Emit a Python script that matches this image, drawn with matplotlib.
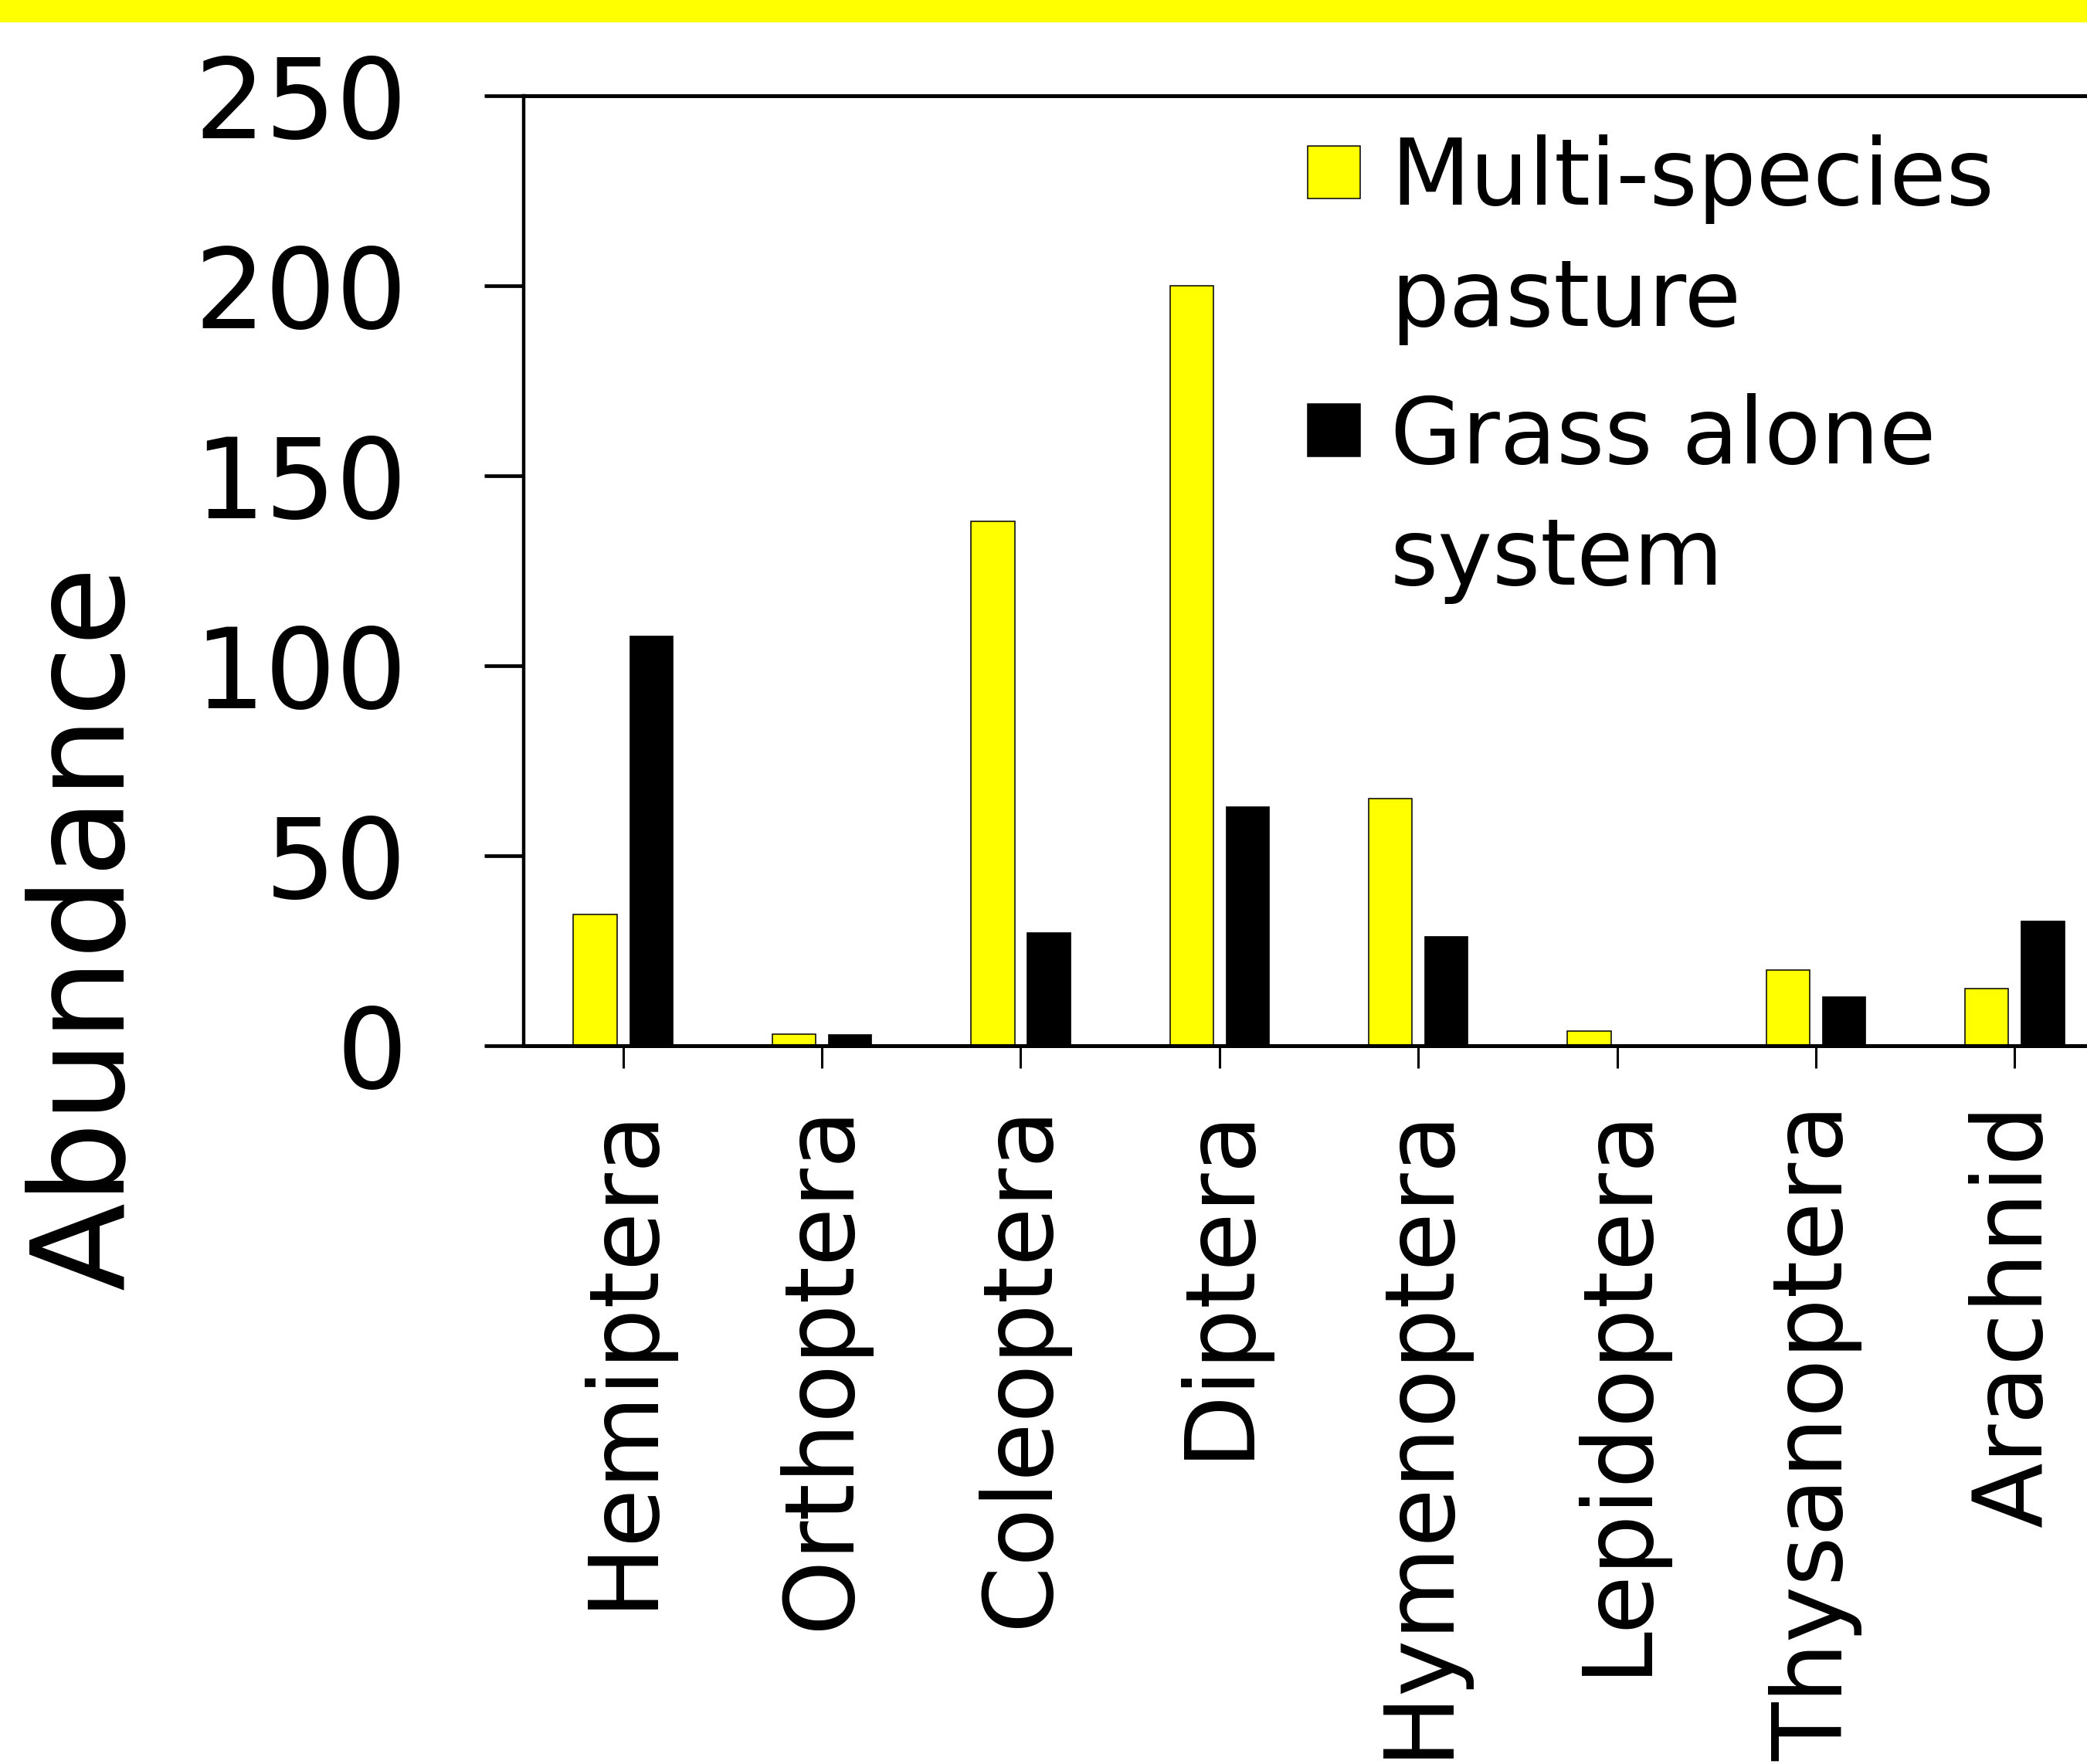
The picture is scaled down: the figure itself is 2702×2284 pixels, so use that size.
import numpy as np
import matplotlib
matplotlib.use("Agg")
import matplotlib.pyplot as plt
from matplotlib.patches import Rectangle

# Data
orders = ["Hemiptera", "Orthoptera", "Coleoptera", "Diptera",
          "Hymenoptera", "Lepidoptera", "Thysanoptera", "Arachnid"]
multi_species = [34.5, 3, 138, 200, 65, 4, 20, 15]
grass_alone = [108, 3, 30, 63, 29, 0, 13, 33]
series_names = ["Multi-species\npasture", "Grass alone\nsystem"]
series_colors = ["#FFFF00", "#000000"]
yticks = [0, 50, 100, 150, 200, 250]

W, H = 2702, 2284
DPI = 100
fig = plt.figure(figsize=(W / DPI, H / DPI), dpi=DPI)
fig.patch.set_facecolor("white")

# yellow band along the top edge
fig.add_artist(Rectangle((0, 1 - 29 / H), 1, 29 / H, transform=fig.transFigure,
                         facecolor="#FFFF00", edgecolor="none"))

# axes box in pixels (right edge runs past the picture)
x0, x1 = 678, 2737
ytop, ybot = 124.2, 1354.2
ax = fig.add_axes([x0 / W, 1 - ybot / H, (x1 - x0) / W, (ybot - ytop) / H])

x = np.arange(len(orders))
bw = 0.219
off = 0.14
ax.bar(x - off, multi_species, bw, color=series_colors[0], edgecolor="black",
       linewidth=1.1, zorder=2)
ax.bar(x + off, grass_alone, bw, color=series_colors[1], edgecolor="black",
       linewidth=0.5, zorder=2)

ax.set_xlim(-0.5, len(orders) - 0.5)
ax.set_ylim(0, 250)
ax.set_yticks(yticks)
ax.set_yticklabels([str(v) for v in yticks], fontsize=104)
ax.set_xticks(x)
ax.set_xticklabels(orders, rotation=90, fontsize=89, va="top", ha="center")

ax.spines["right"].set_visible(False)
ax.spines["top"].set_linewidth(3.6)
ax.spines["bottom"].set_linewidth(3.6)
ax.spines["left"].set_linewidth(3.2)
for s in ax.spines.values():
    s.set_zorder(3)
ax.tick_params(axis="y", direction="out", length=36.7, width=3.4, pad=72)
ax.tick_params(axis="x", direction="out", length=21, width=2.2, pad=33)

# y-axis title, placed lower than the axes middle as in the original
fig.text(112 / W, 1 - 1201 / H, "Abundance", rotation=90, fontsize=120,
         ha="center", va="center")

# legend drawn by hand: square beside the first line of each label
leg_x_box, leg_box_w = 1693, 68
leg_text_x = 1800
first_baselines = [265, 600]
line_step = 157
box_tops = [189, 523]
for name, col, base, btop in zip(series_names, series_colors, first_baselines, box_tops):
    fig.add_artist(Rectangle((leg_x_box / W, 1 - (btop + leg_box_w) / H),
                             leg_box_w / W, leg_box_w / H,
                             transform=fig.transFigure, facecolor=col,
                             edgecolor="black", linewidth=1.1))
    for i, line in enumerate(name.split("\n")):
        fig.text(leg_text_x / W, 1 - (base + i * line_step) / H, line,
                 fontsize=86, ha="left", va="baseline")

fig.savefig("out.png", dpi=DPI)
